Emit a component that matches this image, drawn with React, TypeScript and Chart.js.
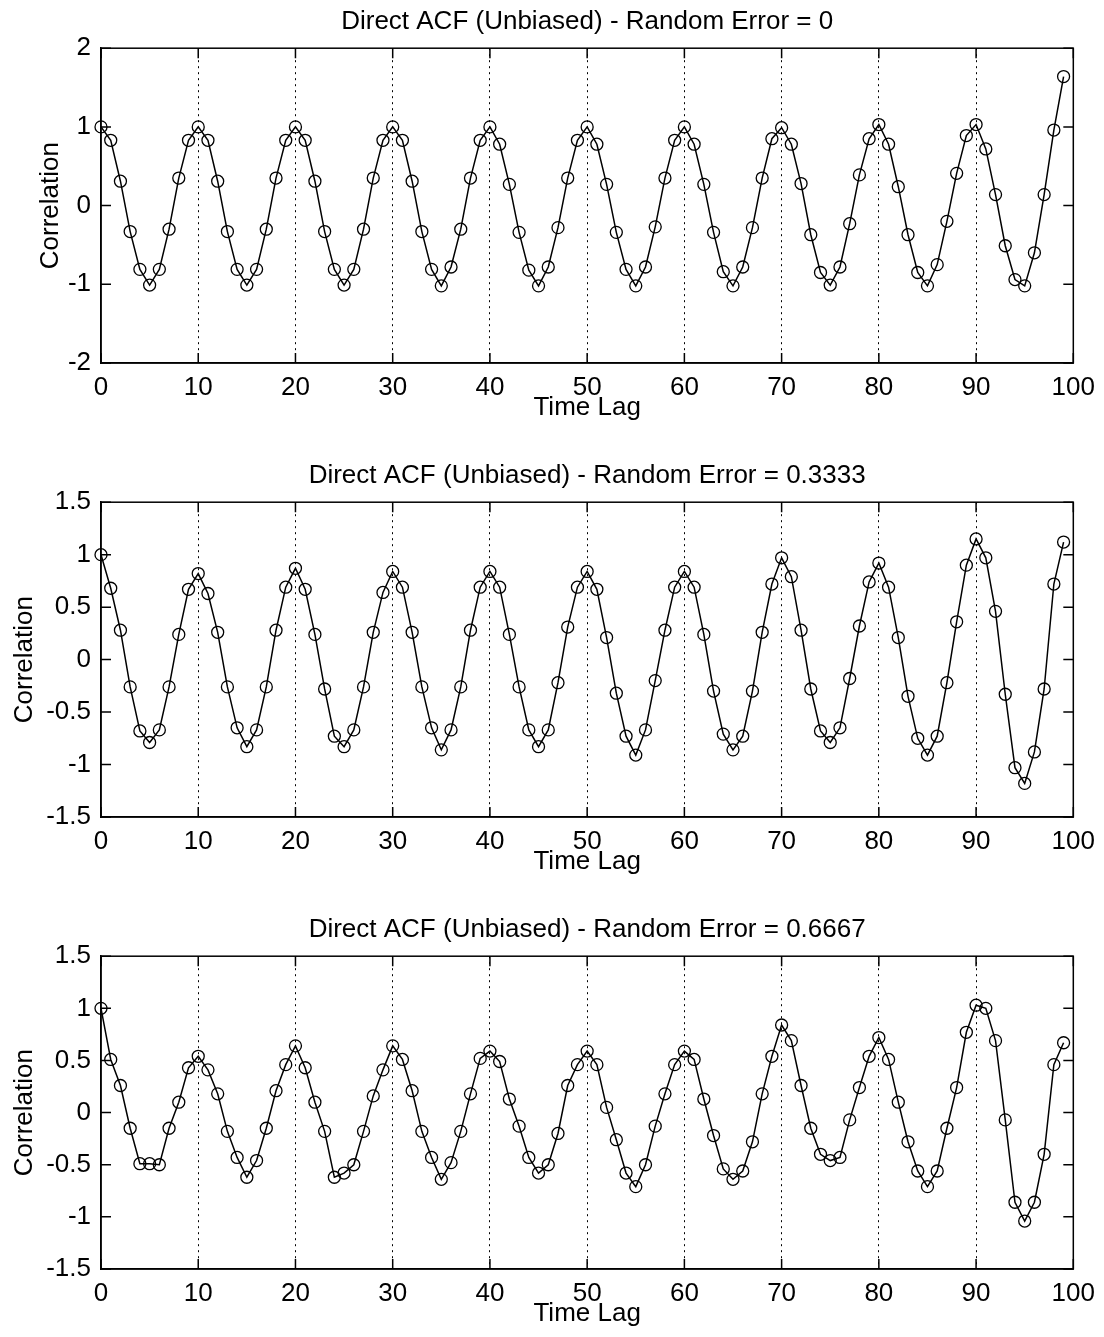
import React, { useEffect, useRef } from "react";
import { Chart, registerables } from "chart.js";

Chart.register(...registerables);

// ---------- data ----------
const lags = [
  0, 1, 2, 3, 4, 5, 6, 7, 8, 9,
  10, 11, 12, 13, 14, 15, 16, 17, 18, 19,
  20, 21, 22, 23, 24, 25, 26, 27, 28, 29,
  30, 31, 32, 33, 34, 35, 36, 37, 38, 39,
  40, 41, 42, 43, 44, 45, 46, 47, 48, 49,
  50, 51, 52, 53, 54, 55, 56, 57, 58, 59,
  60, 61, 62, 63, 64, 65, 66, 67, 68, 69,
  70, 71, 72, 73, 74, 75, 76, 77, 78, 79,
  80, 81, 82, 83, 84, 85, 86, 87, 88, 89,
  90, 91, 92, 93, 94, 95, 96, 97, 98, 99,
];

const acfError0 = [
  1.0, 0.83, 0.31, -0.33, -0.81, -1.01, -0.81, -0.3, 0.35, 0.83,
  1.0, 0.83, 0.31, -0.33, -0.81, -1.01, -0.81, -0.3, 0.35, 0.83,
  1.0, 0.83, 0.31, -0.33, -0.81, -1.01, -0.81, -0.3, 0.35, 0.83,
  1.0, 0.83, 0.31, -0.33, -0.81, -1.02, -0.78, -0.3, 0.35, 0.83,
  1.0, 0.78, 0.27, -0.34, -0.82, -1.02, -0.78, -0.28, 0.35, 0.83,
  1.0, 0.78, 0.27, -0.34, -0.81, -1.02, -0.78, -0.27, 0.35, 0.83,
  1.0, 0.78, 0.27, -0.34, -0.84, -1.02, -0.78, -0.28, 0.35, 0.85,
  0.99, 0.78, 0.28, -0.37, -0.85, -1.01, -0.78, -0.23, 0.39, 0.85,
  1.03, 0.78, 0.24, -0.37, -0.85, -1.02, -0.75, -0.2, 0.41, 0.89,
  1.03, 0.72, 0.14, -0.51, -0.94, -1.02, -0.6, 0.14, 0.96, 1.64,
];

const acfError03333 = [
  1.0, 0.68, 0.28, -0.26, -0.68, -0.79, -0.67, -0.26, 0.24, 0.67,
  0.82, 0.63, 0.26, -0.26, -0.65, -0.83, -0.67, -0.26, 0.28, 0.69,
  0.87, 0.67, 0.24, -0.28, -0.73, -0.83, -0.67, -0.26, 0.26, 0.64,
  0.84, 0.69, 0.26, -0.26, -0.65, -0.86, -0.67, -0.26, 0.28, 0.69,
  0.84, 0.69, 0.24, -0.26, -0.67, -0.83, -0.67, -0.22, 0.31, 0.69,
  0.84, 0.67, 0.21, -0.32, -0.73, -0.91, -0.67, -0.2, 0.28, 0.69,
  0.84, 0.69, 0.24, -0.3, -0.71, -0.86, -0.73, -0.3, 0.26, 0.72,
  0.97, 0.79, 0.28, -0.28, -0.68, -0.79, -0.65, -0.18, 0.32, 0.74,
  0.92, 0.69, 0.21, -0.35, -0.75, -0.91, -0.73, -0.22, 0.36, 0.9,
  1.15, 0.97, 0.46, -0.33, -1.03, -1.18, -0.88, -0.28, 0.72, 1.12,
];

const acfError06667 = [
  1.0, 0.51, 0.26, -0.15, -0.49, -0.49, -0.5, -0.15, 0.1, 0.43,
  0.54, 0.41, 0.18, -0.18, -0.43, -0.62, -0.46, -0.15, 0.21, 0.46,
  0.64, 0.43, 0.1, -0.18, -0.62, -0.58, -0.5, -0.18, 0.16, 0.41,
  0.64, 0.51, 0.21, -0.18, -0.43, -0.64, -0.48, -0.18, 0.18, 0.52,
  0.59, 0.49, 0.13, -0.13, -0.43, -0.58, -0.5, -0.2, 0.26, 0.46,
  0.59, 0.46, 0.05, -0.26, -0.58, -0.71, -0.5, -0.13, 0.18, 0.46,
  0.59, 0.51, 0.13, -0.22, -0.54, -0.64, -0.56, -0.28, 0.18, 0.54,
  0.84, 0.69, 0.26, -0.15, -0.4, -0.46, -0.43, -0.07, 0.24, 0.54,
  0.72, 0.51, 0.1, -0.28, -0.56, -0.71, -0.56, -0.15, 0.24, 0.77,
  1.03, 1.0, 0.69, -0.07, -0.86, -1.04, -0.86, -0.4, 0.46, 0.67,
];

const panelTitles = [
  "Direct ACF (Unbiased) - Random Error = 0",
  "Direct ACF (Unbiased) - Random Error = 0.3333",
  "Direct ACF (Unbiased) - Random Error = 0.6667",
];

const xTickValues = [0, 10, 20, 30, 40, 50, 60, 70, 80, 90, 100];
const yTicksWide = [-2, -1, 0, 1, 2];
const yTicksNarrow = [-1.5, -1, -0.5, 0, 0.5, 1, 1.5];
const xAxisLabel = "Time Lag";
const yAxisLabel = "Correlation";

// ---------- styling ----------
const FONT_FAMILY = "'Liberation Sans', Arial, Helvetica, sans-serif";
Chart.defaults.font.family = FONT_FAMILY;
Chart.defaults.color = "#000";

const matlabBox = {
  id: "matlabBox",
  afterDraw(chart: any) {
    const { ctx, chartArea, scales } = chart;
    const { left, right, top, bottom } = chartArea;
    const x = scales.x;
    const y = scales.y;
    ctx.save();
    ctx.strokeStyle = "#000";
    ctx.lineWidth = 1.5;
    ctx.setLineDash([]);
    ctx.strokeRect(left, top, right - left, bottom - top);
    ctx.beginPath();
    x.ticks.forEach((t: any) => {
      const px = x.getPixelForValue(t.value);
      ctx.moveTo(px, bottom);
      ctx.lineTo(px, bottom - 10);
      ctx.moveTo(px, top);
      ctx.lineTo(px, top + 10);
    });
    y.ticks.forEach((t: any) => {
      const py = y.getPixelForValue(t.value);
      ctx.moveTo(left, py);
      ctx.lineTo(left + 10, py);
      ctx.moveTo(right, py);
      ctx.lineTo(right - 10, py);
    });
    ctx.stroke();
    ctx.restore();
  },
};

type PanelProps = {
  values: number[];
  title: string;
  yTicks: number[];
  top: number;
  bottomPad: number;
  yTitlePad: number;
};

function Panel({ values, title, yTicks, top, bottomPad, yTitlePad }: PanelProps) {
  const ref = useRef<HTMLCanvasElement | null>(null);

  useEffect(() => {
    if (!ref.current) return;
    const font = { family: FONT_FAMILY, size: 26, weight: "normal" as const, lineHeight: 1.2 };
    const chart = new Chart(ref.current, {
      type: "line",
      data: {
        datasets: [
          {
            data: lags.map((lag, i) => ({ x: lag, y: values[i] })),
            borderColor: "#000",
            borderWidth: 1.5,
            pointRadius: 6,
            pointBorderWidth: 1.3,
            pointBackgroundColor: "rgba(0,0,0,0)",
            pointBorderColor: "#000",
            pointStyle: "circle",
            tension: 0,
            fill: false,
            clip: false as any,
          },
        ],
      },
      options: {
        animation: false,
        responsive: false,
        events: [],
        layout: { padding: { left: 0, right: 30, top: 0, bottom: bottomPad } },
        plugins: {
          legend: { display: false },
          tooltip: { enabled: false },
          title: {
            display: true,
            text: title,
            fullSize: false,
            color: "#000",
            font,
            padding: { top: 6, bottom: 11 },
          },
        },
        scales: {
          x: {
            type: "linear",
            min: xTickValues[0],
            max: xTickValues[xTickValues.length - 1],
            afterBuildTicks: (s: any) => {
              s.ticks = xTickValues.map((v) => ({ value: v }));
            },
            afterFit: (s: any) => {
              s.height = 60;
            },
            ticks: {
              font,
              color: "#000",
              padding: 9,
              maxRotation: 0,
              autoSkip: false,
              callback: (v: any) => String(v),
            },
            grid: {
              drawTicks: false,
              lineWidth: 1,
              color: (c: any) =>
                c.tick && (c.tick.value === xTickValues[0] || c.tick.value === xTickValues[xTickValues.length - 1])
                  ? "rgba(0,0,0,0)"
                  : "#000",
              borderDash: [2, 4],
            } as any,
            border: { display: true, color: "#000", width: 1.5, dash: [2, 4] },
            title: { display: true, text: xAxisLabel, color: "#000", font, padding: 0 },
          },
          y: {
            type: "linear",
            min: yTicks[0],
            max: yTicks[yTicks.length - 1],
            afterBuildTicks: (s: any) => {
              s.ticks = yTicks.map((v) => ({ value: v }));
            },
            afterFit: (s: any) => {
              s.width = 101;
            },
            ticks: {
              font,
              color: "#000",
              padding: 10,
              autoSkip: false,
              callback: (v: any) => String(v),
            },
            grid: { display: false, drawTicks: false },
            border: { display: true, color: "#000", width: 1.5 },
            title: {
              display: true,
              text: yAxisLabel,
              color: "#000",
              font,
              padding: { top: yTitlePad, bottom: 0 },
            },
          },
        },
      } as any,
      plugins: [matlabBox],
    });
    return () => chart.destroy();
  }, [values, title, yTicks, bottomPad, yTitlePad]);

  return (
    <canvas
      ref={ref}
      width={1104}
      height={453}
      style={{ position: "absolute", left: 0, top, width: 1104, height: 453, display: "block" }}
    />
  );
}

export default function App() {
  return (
    <div
      style={{
        position: "absolute",
        left: 0,
        top: 0,
        width: 1104,
        height: 1337,
        background: "#fff",
        overflow: "hidden",
      }}
    >
      <Panel values={acfError0} title={panelTitles[0]} yTicks={yTicksWide} top={0} bottomPad={30} yTitlePad={35} />
      <Panel values={acfError03333} title={panelTitles[1]} yTicks={yTicksNarrow} top={454} bottomPad={30} yTitlePad={9} />
      <Panel values={acfError06667} title={panelTitles[2]} yTicks={yTicksNarrow} top={908} bottomPad={32} yTitlePad={9} />
    </div>
  );
}
